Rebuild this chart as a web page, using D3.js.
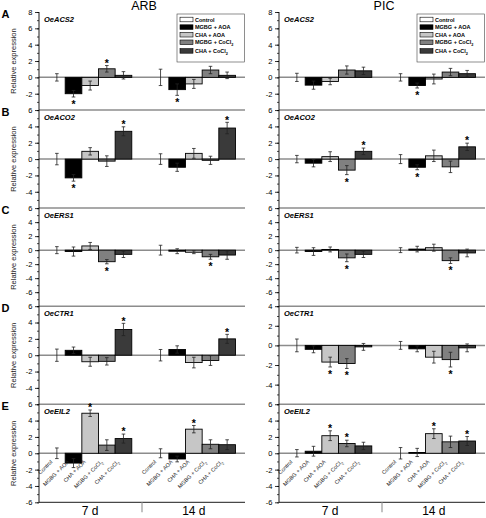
<!DOCTYPE html>
<html><head><meta charset="utf-8">
<script src="https://cdn.jsdelivr.net/npm/d3@7/dist/d3.min.js"></script>
<style>body{margin:0;background:#fff} svg{display:block;font-family:"Liberation Sans",Arial,sans-serif}</style>
</head><body><svg id="c" width="486" height="518"></svg>
<script>
const cultivars = ["ARB", "PIC"];
const genes = ["OeACS2", "OeACO2", "OeERS1", "OeCTR1", "OeEIL2"];
const panelLetters = ["A", "B", "C", "D", "E"];
const times = ["7 d", "14 d"];
const treatments = ["Control", "MGBG + AOA", "CHA + AOA", "MGBG + CoCl2", "CHA + CoCl2"];
const treatmentColors = ["#ffffff", "#000000", "#c6c6c6", "#808080", "#3a3a3a"];

const arbDomains = [[-4, 8], [-6, 6], [-8, 6], [-6, 6], [-6, 6]];
const picDomains = [[-4, 8], [-6, 6], [-8, 6], [-6, 4], [-6, 6]];

// values per gene: 7 d (5 treatments) then 14 d (5 treatments)
const arbMeans = [
  [0, -2.0, -1.0, 1.05, 0.25, 0, -1.5, -0.8, 0.9, 0.25],
  [0, -2.3, 0.95, -0.25, 3.4, 0, -1.0, 0.7, -0.15, 3.8],
  [0, -0.2, 0.6, -1.65, -0.6, 0, -0.15, -0.3, -0.95, -0.7],
  [0, 0.6, -0.8, -0.75, 3.15, 0, 0.7, -0.9, -0.65, 2.0],
  [0, -1.2, 4.9, 1.0, 1.8, 0, -0.7, 2.95, 1.1, 1.05]
];
const arbErrors = [
  [0.45, 0.4, 0.55, 0.4, 0.45, 1.0, 0.7, 0.55, 0.45, 0.4],
  [0.7, 0.4, 0.45, 0.65, 0.55, 0.65, 0.5, 0.6, 0.5, 0.7],
  [0.5, 0.65, 0.5, 0.3, 0.45, 0.7, 0.35, 0.2, 0.35, 0.6],
  [0.75, 0.4, 0.55, 0.45, 0.75, 0.7, 0.45, 0.65, 0.6, 0.55],
  [0.65, 0.55, 0.4, 0.65, 0.55, 0.55, 0.35, 0.45, 0.55, 0.6]
];
const arbSignificant = [
  [0, 1, 0, 1, 0, 0, 1, 0, 0, 0],
  [0, 1, 0, 0, 1, 0, 0, 0, 0, 1],
  [0, 0, 0, 1, 0, 0, 0, 0, 1, 0],
  [0, 0, 0, 0, 1, 0, 0, 0, 0, 1],
  [0, 0, 1, 0, 1, 0, 0, 1, 0, 0]
];
const picMeans = [
  [0, -0.95, -0.5, 0.9, 0.8, 0, -1.0, -0.2, 0.65, 0.45],
  [0, -0.5, 0.3, -1.35, 0.95, 0, -1.0, 0.4, -0.95, 1.5],
  [0, -0.2, 0.1, -1.1, -0.6, 0, 0.15, 0.35, -1.5, -0.4],
  [0, -0.4, -1.7, -1.85, -0.15, 0, -0.35, -1.2, -1.45, -0.25],
  [0, 0.25, 2.15, 1.2, 0.9, 0, 0.1, 2.4, 1.4, 1.5]
];
const picErrors = [
  [0.5, 0.5, 0.4, 0.5, 0.45, 0.45, 0.3, 0.6, 0.45, 0.4],
  [0.45, 0.45, 0.6, 0.55, 0.4, 0.55, 0.3, 0.7, 0.7, 0.45],
  [0.4, 0.55, 0.35, 0.55, 0.45, 0.35, 0.4, 0.5, 0.4, 0.55],
  [0.65, 0.35, 0.5, 0.5, 0.35, 0.4, 0.3, 0.6, 0.75, 0.4],
  [0.45, 0.6, 0.6, 0.4, 0.45, 0.7, 0.5, 0.6, 0.7, 0.55]
];
const picSignificant = [
  [0, 0, 0, 0, 0, 0, 1, 0, 0, 0],
  [0, 0, 0, 1, 1, 0, 1, 0, 0, 1],
  [0, 0, 0, 1, 0, 0, 0, 0, 1, 0],
  [0, 0, 1, 1, 0, 0, 0, 0, 1, 0],
  [0, 0, 1, 1, 0, 0, 0, 1, 0, 1]
];

const svg = d3.select("#c");
const colRanges = [[39, 245], [279, 485]];
const top0 = 12, bottom0 = 502.3;
const panelH = (bottom0 - top0) / genes.length;
const sets = [
  {domains: arbDomains, means: arbMeans, errs: arbErrors, sig: arbSignificant},
  {domains: picDomains, means: picMeans, errs: picErrors, sig: picSignificant}
];

function chemText(sel, label) {
  const m = label.match(/^(.*CoCl)2$/);
  if (m) {
    sel.append("tspan").text(m[1]);
    sel.append("tspan").attr("baseline-shift", "sub").attr("font-size", "0.7em").text("2");
  } else sel.text(label);
}

cultivars.forEach((cv, c) => {
  const set = sets[c];
  const [rx0, rx1] = colRanges[c];
  const x0 = d3.scaleBand().domain(times).range([rx0, rx1]).paddingInner(0.197).paddingOuter(0.092);
  const x1 = d3.scaleBand().domain(treatments).range([0, x0.bandwidth()]);
  const color = d3.scaleOrdinal().domain(treatments).range(treatmentColors);

  svg.append("text").attr("x", (rx0 + rx1) / 2 + 2).attr("y", 10).attr("text-anchor", "middle")
    .attr("font-size", 12.5).text(cv);

  genes.forEach((g, p) => {
    const top = top0 + p * panelH, bot = top + panelH;
    const [dmin, dmax] = set.domains[p];
    const y = d3.scaleLinear().domain([dmin, dmax]).range([bot, top]);
    const gp = svg.append("g");

    const minor = gp.append("g").attr("transform", `translate(${rx0},0)`)
      .call(d3.axisLeft(y).tickValues(d3.range(dmin, dmax + 0.001, 1)).tickSize(2).tickFormat(""));
    minor.select(".domain").remove();
    minor.selectAll("line").attr("stroke", "#000").attr("stroke-width", 0.7);
    const isLast = p === genes.length - 1;
    const majorVals = d3.range(dmin, dmax + 0.001, 2).filter(v => isLast || v !== dmin);
    const major = gp.append("g").attr("transform", `translate(${rx0},0)`)
      .call(d3.axisLeft(y).tickValues(majorVals).tickSize(4).tickPadding(2.5).tickFormat(d3.format("d")));
    major.select(".domain").remove();
    major.selectAll("line").attr("stroke", "#000").attr("stroke-width", 0.8);
    major.selectAll("text").attr("font-size", 7.5).attr("fill", "#000")
      .attr("font-family", "Liberation Sans, Arial, sans-serif").text(d => d < 0 ? "-" + Math.abs(d) : d);

    if (p > 0) {
      gp.append("line").attr("x1", rx0).attr("x2", rx1).attr("y1", y(dmax)).attr("y2", y(dmax))
        .attr("stroke", "#8c8c8c").attr("stroke-width", 1.5);
    }

    gp.append("line").attr("x1", rx0).attr("x2", rx1).attr("y1", y(0)).attr("y2", y(0))
      .attr("stroke", "#8c8c8c").attr("stroke-width", 1.5);

    const rows = [];
    times.forEach((t, ti) => treatments.forEach((tr, k) => {
      const i = ti * treatments.length + k;
      rows.push({t, tr, v: set.means[p][i], e: set.errs[p][i], s: set.sig[p][i]});
    }));

    gp.selectAll("rect.bar").data(rows.filter(d => d.v !== 0)).join("rect").attr("class", "bar")
      .attr("x", d => x0(d.t) + x1(d.tr)).attr("width", x1.bandwidth())
      .attr("y", d => y(Math.max(0, d.v))).attr("height", d => Math.abs(y(d.v) - y(0)))
      .attr("fill", d => color(d.tr)).attr("stroke", "#000").attr("stroke-width", 0.9);

    const cx = d => x0(d.t) + x1(d.tr) + x1.bandwidth() / 2;
    const eb = gp.selectAll("g.err").data(rows).join("g").attr("class", "err")
      .attr("stroke", "#222").attr("stroke-width", 0.8);
    eb.append("line").attr("x1", cx).attr("x2", cx).attr("y1", d => y(d.v - d.e)).attr("y2", d => y(d.v + d.e));
    eb.append("line").attr("x1", d => cx(d) - 1.8).attr("x2", d => cx(d) + 1.8)
      .attr("y1", d => y(d.v - d.e)).attr("y2", d => y(d.v - d.e));
    eb.append("line").attr("x1", d => cx(d) - 1.8).attr("x2", d => cx(d) + 1.8)
      .attr("y1", d => y(d.v + d.e)).attr("y2", d => y(d.v + d.e));

    gp.selectAll("text.star").data(rows.filter(d => d.s)).join("text").attr("class", "star")
      .attr("x", cx).attr("text-anchor", "middle").attr("font-size", 10.5).attr("font-weight", "bold")
      .attr("y", d => d.v >= 0 ? y(d.v + d.e) + 1.3 : y(d.v - d.e) + 11).text("*");

    gp.append("text").attr("x", rx0 + 5).attr("y", top + 10).attr("font-size", 7.5)
      .attr("font-weight", "bold").attr("font-style", "italic").text(g);

    if (c === 0) {
      gp.append("text").attr("x", 1.5).attr("y", top + 6).attr("font-size", 11).attr("font-weight", "bold")
        .text(panelLetters[p]);
      gp.append("text").attr("transform", `translate(16,${(top + bot) / 2}) rotate(-90)`)
        .attr("text-anchor", "middle").attr("font-size", 7.5).attr("fill", "#222").text("Relative expression");
    }

    if (p === 0) {
      const lx = rx1 - 68, ly = top + 2;
      const lg = gp.append("g");
      lg.append("rect").attr("x", lx).attr("y", ly).attr("width", 67.5).attr("height", 48)
        .attr("fill", "#fff").attr("stroke", "#444").attr("stroke-width", 0.6);
      treatments.forEach((tr, k) => {
        const yy = ly + 5.5 + k * 7.6 + (k === 4 ? 1 : 0);
        lg.append("rect").attr("x", lx + 3).attr("y", yy - 2.3).attr("width", 13).attr("height", 4.6)
          .attr("fill", color(tr)).attr("stroke", "#000").attr("stroke-width", 0.6);
        lg.append("text").attr("x", lx + 18).attr("y", yy + 2).attr("font-size", 5.5)
          .attr("font-weight", "bold").call(chemText, tr);
      });
    }

    if (isLast) {
      rows.forEach(d => {
        const ax = cx(d) - 4, ay = y(0) + 9;
        gp.append("text").attr("transform", `translate(${ax},${ay}) rotate(-45)`)
          .attr("text-anchor", "end").attr("font-size", 5.5).attr("fill", "#222").call(chemText, d.tr);
      });
    }
  });

  svg.append("line").attr("x1", rx0).attr("x2", rx0).attr("y1", top0).attr("y2", bottom0)
    .attr("stroke", "#000").attr("stroke-width", 0.9);
  svg.append("line").attr("x1", rx0).attr("x2", rx1).attr("y1", bottom0).attr("y2", bottom0)
    .attr("stroke", "#000").attr("stroke-width", 0.9);
  const midX = (x0("7 d") + x0.bandwidth() + x0("14 d")) / 2;
  svg.append("line").attr("x1", midX).attr("x2", midX).attr("y1", bottom0).attr("y2", bottom0 + 10)
    .attr("stroke", "#999").attr("stroke-width", 1.2);
  times.forEach(t => {
    svg.append("text").attr("x", x0(t) + x0.bandwidth() / 2).attr("y", 514.5).attr("text-anchor", "middle")
      .attr("font-size", 12).text(t);
  });
});
</script></body></html>
